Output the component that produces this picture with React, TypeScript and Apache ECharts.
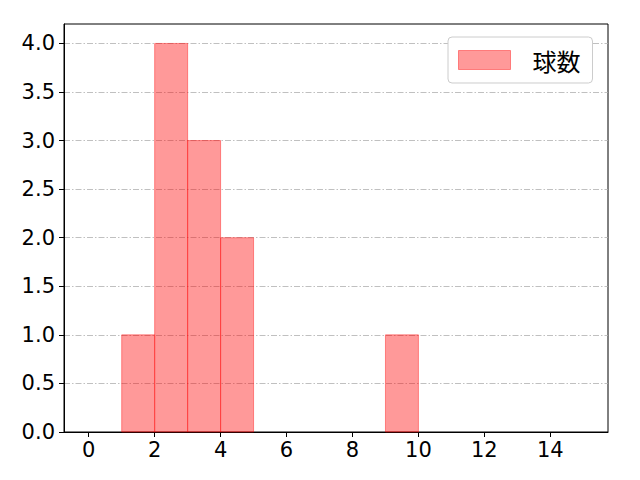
import React, { useEffect, useRef } from "react";
import * as echarts from "echarts";

const binStarts = [1, 2, 3, 4, 9];
const binEnds = [2, 3, 4, 5, 10];
const counts = [1, 4, 3, 2, 1];
const xTicks = [0, 2, 4, 6, 8, 10, 12, 14];
const yTicks = [0, 0.5, 1, 1.5, 2, 2.5, 3, 3.5, 4];
const seriesName = "球数";

const FONT = "DejaVu Sans";
const CJK = "Noto Sans CJK JP";

export default function App() {
  const ref = useRef<HTMLDivElement>(null);
  useEffect(() => {
    if (!ref.current) return;
    const chart = echarts.init(ref.current, null, { renderer: "svg" });
    const data = binStarts.map((s, i) => [s, binEnds[i], counts[i]]);
    chart.setOption({
      animation: false,
      grid: {
        left: 64,
        right: 32,
        top: 24,
        bottom: 48,
        show: true,
        borderColor: "#000",
        borderWidth: 1,
        backgroundColor: "transparent",
      },
      legend: {
        left: 448,
        top: 37,
        orient: "vertical",
        data: [{ name: seriesName, icon: "rect" }],
        itemWidth: 52,
        itemHeight: 19,
        padding: [11, 12, 11, 10],
        borderColor: "#cccccc",
        borderWidth: 1,
        borderRadius: 4,
        backgroundColor: "#fff",
        itemStyle: { color: "rgba(255,0,0,0.4)", borderColor: "rgba(255,0,0,0.4)", borderWidth: 1 },
        textStyle: { fontFamily: CJK, fontSize: 24, color: "#000", padding: [0, 0, 0, 17] },
      },
      xAxis: {
        type: "value",
        min: -0.75,
        max: 15.75,
        axisLine: { show: true, onZero: false, lineStyle: { color: "#000", width: 1 } },
        axisTick: { show: true, customValues: xTicks, length: 5, inside: false, lineStyle: { color: "#000" } },
        axisLabel: {
          customValues: xTicks,
          fontFamily: FONT,
          fontSize: 21,
          color: "#000",
          margin: 7,
        },
        splitLine: { show: false },
      },
      yAxis: {
        type: "value",
        min: 0,
        max: 4.2,
        interval: 0.5,
        axisLine: { show: true, onZero: false, lineStyle: { color: "#000", width: 1 } },
        axisTick: { show: true, customValues: yTicks, length: 5, inside: false, lineStyle: { color: "#000" } },
        axisLabel: {
          customValues: yTicks,
          fontFamily: FONT,
          fontSize: 21,
          color: "#000",
          margin: 9,
          formatter: (v: number) => v.toFixed(1),
        },
        splitLine: {
          show: true,
          lineStyle: { color: "#b0b0b0", width: 0.8, type: [6, 2, 1.5, 2] },
        },
      },
      series: [
        {
          name: seriesName,
          type: "custom",
          data,
          encode: { x: [0, 1], y: 2 },
          renderItem: (params: any, api: any) => {
            const p0 = api.coord([api.value(0), api.value(2)]);
            const p1 = api.coord([api.value(1), 0]);
            return {
              type: "rect",
              shape: { x: p0[0], y: p0[1], width: p1[0] - p0[0], height: p1[1] - p0[1] },
              style: { fill: "rgba(255,0,0,0.4)", stroke: "rgba(255,0,0,0.4)", lineWidth: 1 },
            };
          },
        },
      ],
    });
    return () => chart.dispose();
  }, []);
  return (
    <div
      ref={ref}
      style={{ position: "absolute", left: 0, top: 0, width: 640, height: 480 }}
    />
  );
}
